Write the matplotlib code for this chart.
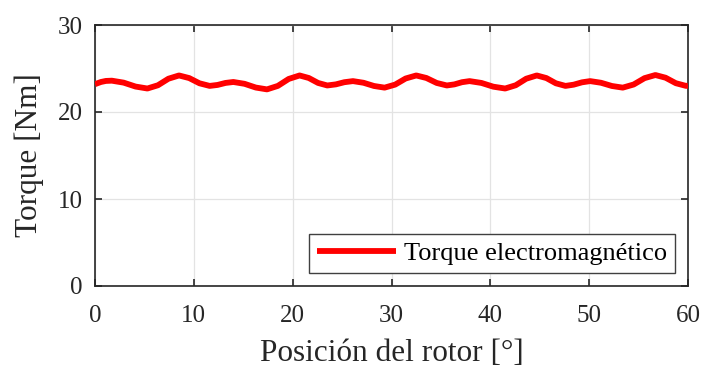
import matplotlib
matplotlib.use("Agg")
import matplotlib.pyplot as plt

# Rotor position [deg] and electromagnetic torque [Nm]
pos = [0.0, 0.6, 1.1, 1.7, 2.9, 4.1, 5.3, 6.37, 7.43, 8.5, 9.53, 10.57, 11.6,
       12.4, 13.2, 14.0, 15.13, 16.27, 17.4, 18.5, 19.6, 20.7, 21.63, 22.57, 23.5,
       24.37, 25.23, 26.1, 27.17, 28.23, 29.3, 30.37, 31.43, 32.5, 33.53, 34.57, 35.6,
       36.37, 37.13, 37.9, 39.1, 40.3, 41.5, 42.57, 43.63, 44.7, 45.67, 46.63, 47.6,
       48.43, 49.27, 50.1, 51.2, 52.3, 53.4, 54.5, 55.6, 56.7, 57.73, 58.77, 59.8, 60.0]
torque = [23.2, 23.45, 23.57, 23.6, 23.375, 22.925, 22.7, 23.075, 23.825, 24.2, 23.9, 23.3, 23.0,
          23.11, 23.34, 23.45, 23.24, 22.81, 22.6, 23.0, 23.8, 24.2, 23.91, 23.34, 23.05,
          23.175, 23.425, 23.55, 23.36, 22.99, 22.8, 23.15, 23.85, 24.2, 23.91, 23.34, 23.05,
          23.175, 23.425, 23.55, 23.34, 22.91, 22.7, 23.075, 23.825, 24.2, 23.9, 23.3, 23.0,
          23.14, 23.41, 23.55, 23.36, 22.99, 22.8, 23.16, 23.89, 24.25, 23.94, 23.31, 23.0, 23.03]

xticks = [0, 10, 20, 30, 40, 50, 60]
yticks = [0, 10, 20, 30]

plt.rcParams['font.family'] = ['Liberation Serif', 'DejaVu Serif']
dark = '#262626'

fig = plt.figure(figsize=(7.04, 3.70), dpi=100)
ax = fig.add_axes([95/704, 1-286/370, (688-95)/704, (286-25)/370])

ax.plot(pos, torque, color='#ff0000', lw=4.2, solid_capstyle='butt', solid_joinstyle='round',
        label='Torque electromagnético', zorder=3)

ax.set_xlim(0, 60)
ax.set_ylim(0, 30)
ax.set_xticks(xticks)
ax.set_yticks(yticks)
ax.grid(True, color='#e3e3e3', lw=0.9, zorder=0)
ax.set_axisbelow(True)

for s in ax.spines.values():
    s.set_color(dark)
    s.set_linewidth(1.2)
ax.tick_params(direction='in', length=5, width=1.2, colors=dark, labelsize=18,
               top=True, right=True)
ax.tick_params(axis='x', pad=13.5)
ax.tick_params(axis='y', pad=9)
for lab in ax.get_yticklabels():
    lab.set_verticalalignment('center_baseline')

ax.set_xlabel('Posición del rotor [°]', fontsize=22.5, color=dark, labelpad=9)
ax.set_ylabel('Torque [Nm]', fontsize=22.5, color=dark, labelpad=10)

leg = ax.legend(loc='lower right', fontsize=19, handlelength=3.0, handletextpad=0.3,
                borderpad=0.3, borderaxespad=0.5, fancybox=False, framealpha=1,
                edgecolor='#404040')
leg.get_frame().set_linewidth(1.0)
for t in leg.get_texts():
    t.set_color('black')

fig.savefig('out.png', dpi=100)
